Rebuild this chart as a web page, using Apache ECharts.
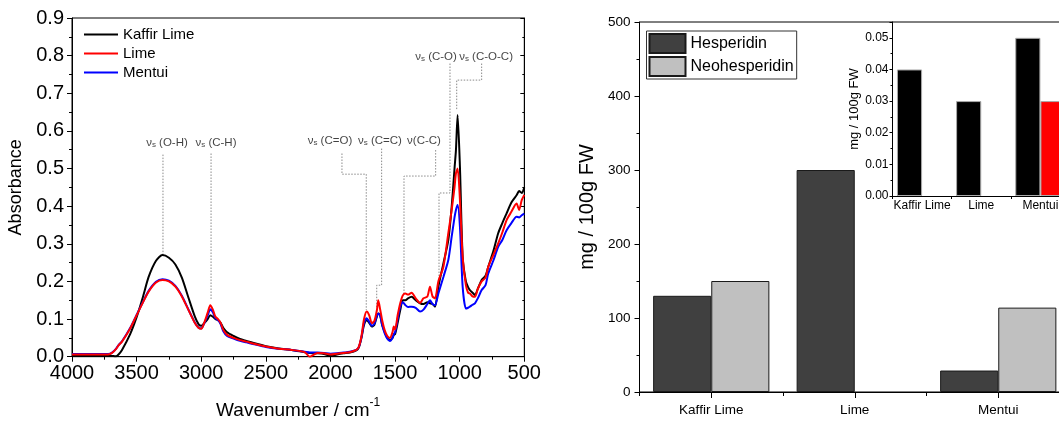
<!DOCTYPE html>
<html><head><meta charset="utf-8">
<script src="https://cdn.jsdelivr.net/npm/echarts@6/dist/echarts.min.js"></script>
<style>html,body{margin:0;padding:0;background:#fff}#c{width:1059px;height:423px}</style>
</head><body><div id="c"></div>
<script>
// ---------- FTIR spectra (wavenumber / absorbance) ----------
const wn = [
  4000,3900,3800,3720,3690,3660,3640,3613,3550,3500,3450,3407,3350,3300,3250,3200,3150,3100,3050,3020,3000,
  2975,2950,2930,2910,2890,2870,2850,2830,2800,2750,2700,2650,2600,2500,2400,2300,
  2200,2160,2100,2050,2000,1950,1900,1850,1800,1780,1760,1740,
  1720,1700,1680,1660,1640,1630,1615,1600,1580,1560,1540,1520,1510,1500,
  1480,1460,1440,1420,1400,1372,1340,1307,1280,1250,1230,1210,1191,1165,
  1126,1088,1062,1040,1029,1016,998,977,952,935,921,900,882,
  860,830,800,779,740,702,670,637,600,560,540,520,500];
const kaffirLime = [
  0.004,0.004,0.004,0.003,0.002,0.001,0.006,0.018,0.06,0.105,0.16,0.212,0.255,0.27,0.263,0.245,0.21,0.158,0.107,0.086,0.082,
  0.09,0.1,0.11,0.106,0.1,0.097,0.09,0.077,0.065,0.055,0.047,0.042,0.037,0.028,0.022,0.018,
  0.012,0.01,0.009,0.007,0.002,0.006,0.009,0.011,0.017,0.025,0.05,0.085,
  0.097,0.09,0.08,0.085,0.108,0.115,0.11,0.084,0.065,0.05,0.044,0.05,0.058,0.06,
  0.09,0.124,0.15,0.15,0.155,0.159,0.15,0.142,0.14,0.145,0.142,0.14,0.133,0.186,
  0.248,0.31,0.398,0.5,0.549,0.642,0.504,0.265,0.2,0.185,0.177,0.17,0.164,
  0.18,0.204,0.215,0.239,0.28,0.328,0.355,0.381,0.41,0.429,0.44,0.435,0.45];
const lime = [
  0.006,0.006,0.006,0.006,0.01,0.02,0.03,0.04,0.075,0.11,0.145,0.173,0.197,0.204,0.2,0.186,0.16,0.125,0.09,0.076,0.074,
  0.092,0.117,0.137,0.125,0.106,0.1,0.09,0.072,0.058,0.05,0.044,0.04,0.035,0.027,0.021,0.018,
  0.012,0.0,0.01,0.009,0.006,0.008,0.01,0.012,0.018,0.027,0.055,0.1,
  0.12,0.11,0.089,0.095,0.125,0.15,0.125,0.097,0.07,0.055,0.05,0.065,0.08,0.072,
  0.11,0.142,0.163,0.168,0.165,0.17,0.155,0.143,0.155,0.16,0.186,0.16,0.155,0.2,
  0.239,0.328,0.39,0.45,0.487,0.5,0.416,0.265,0.19,0.17,0.168,0.16,0.159,
  0.18,0.2,0.21,0.239,0.27,0.301,0.33,0.363,0.385,0.407,0.39,0.416,0.43];
const mentui = [
  0.007,0.007,0.007,0.007,0.011,0.021,0.031,0.041,0.076,0.111,0.146,0.175,0.199,0.206,0.202,0.188,0.162,0.126,0.091,0.077,0.075,
  0.09,0.11,0.126,0.118,0.102,0.097,0.087,0.068,0.055,0.048,0.042,0.038,0.034,0.026,0.021,0.018,
  0.013,0.011,0.011,0.01,0.008,0.009,0.011,0.013,0.018,0.026,0.052,0.09,
  0.102,0.093,0.082,0.088,0.11,0.115,0.108,0.085,0.062,0.048,0.042,0.05,0.06,0.065,
  0.1,0.133,0.145,0.137,0.132,0.133,0.13,0.12,0.125,0.14,0.15,0.14,0.137,0.168,
  0.212,0.257,0.319,0.37,0.39,0.403,0.345,0.186,0.128,0.13,0.133,0.138,0.142,
  0.155,0.177,0.19,0.221,0.255,0.292,0.31,0.336,0.355,0.372,0.37,0.376,0.38];
const spectraNames = ['Kaffir Lime', 'Lime', 'Mentui'];

// ---------- band assignments (data coordinates) ----------
const annNames = ['O-H', 'C-H', 'C=O', 'C=C', 'C-C', 'C-O', 'C-O-C'];
const annSub = [true, true, true, true, false, true, true];
const annText = [[3265,0.58],[2886,0.58],[2004,0.585],[1617,0.585],[1276,0.585],[1183,0.808],[796,0.808]];
const annPaths = [
  [[3296,0.537],[3296,0.27]],
  [[2924,0.54],[2924,0.15]],
  [[1911,0.54],[1911,0.485],[1723,0.485],[1723,0.124]],
  [[1604,0.553],[1604,0.19],[1642,0.19],[1642,0.13]],
  [[1186,0.549],[1186,0.48],[1431,0.48],[1431,0.165]],
  [[1075,0.779],[1075,0.435],[1160,0.435],[1160,0.205]],
  [[830,0.779],[830,0.735],[1023,0.735],[1023,0.655]]];

// ---------- flavanone contents ----------
const barCats = ['Kaffir Lime', 'Lime', 'Mentui'];
const hesperidin = [130, 300, 29];
const neohesperidin = [150, 0, 114];
const insetBlack = [0.04, 0.03, 0.05];
const insetRed = [0, 0, 0.03];

const FONT = '"Liberation Sans", Arial, Helvetica, sans-serif';
const chart = echarts.init(document.getElementById('c'), null, {renderer: 'canvas'});
const pairs = (ys) => wn.map((w, i) => [w, ys[i]]);
const barItems = (vals) => vals.map(v => v === 0 ? {value: v, itemStyle: {borderWidth: 0}} : v);
const blk = '#000';

const lineSeries = [
  {name: 'Kaffir Lime', data: pairs(kaffirLime), color: '#000000', z: 3},
  {name: 'Mentui', data: pairs(mentui), color: '#0000ff', z: 4},
  {name: 'Lime', data: pairs(lime), color: '#ff0000', z: 5}
].map(s => ({
  type: 'line', name: s.name, xAxisIndex: 0, yAxisIndex: 0, data: s.data,
  showSymbol: false, symbol: 'none', smooth: 0.25, z: s.z, color: s.color,
  lineStyle: {color: s.color, width: 2}, itemStyle: {color: s.color}, animation: false
}));

const leaderSeries = annPaths.map(p => ({
  type: 'line', xAxisIndex: 0, yAxisIndex: 0, data: p, symbol: 'none', silent: true, z: 1,
  lineStyle: {color: '#8a8a8a', width: 1, type: [1.5, 1.5]}, animation: false
}));

const labelSeries = {
  type: 'scatter', xAxisIndex: 0, yAxisIndex: 0, data: annText, symbolSize: 1, silent: true, z: 6,
  itemStyle: {color: 'rgba(0,0,0,0)'},
  label: {
    show: true, position: 'inside',
    formatter: (p) => annSub[p.dataIndex]
      ? '{n|ν}{s|s}{n| (' + annNames[p.dataIndex] + ')}'
      : '{n|ν(' + annNames[p.dataIndex] + ')}',
    rich: {
      n: {fontSize: 11.5, fontFamily: FONT, color: '#111', lineHeight: 20, verticalAlign: 'bottom'},
      s: {fontSize: 8, fontFamily: FONT, color: '#111', lineHeight: 8, verticalAlign: 'bottom'}
    }
  }, animation: false
};

const axisCommon = (extra) => Object.assign({
  axisLine: {show: true, lineStyle: {color: blk, width: 1}},
  splitLine: {show: false}
}, extra);

const option = {
  animation: false,
  backgroundColor: '#fff',
  textStyle: {fontFamily: FONT},
  grid: [
    {left: 72, top: 18, right: 534.7, bottom: 66.3, outerBoundsMode: 'none', containLabel: false,
      show: true, borderColor: blk, borderWidth: 1},
    {left: 639.5, top: 22, right: -11, bottom: 31, outerBoundsMode: 'none', containLabel: false,
      show: true, borderColor: blk, borderWidth: 1},
    {left: 892.5, top: 22, right: -11, bottom: 227, outerBoundsMode: 'none', containLabel: false, show: false}
  ],
  legend: [
    {data: spectraNames, orient: 'vertical', left: 84, top: 26, padding: 0, itemGap: 2,
      icon: 'rect', itemWidth: 34, itemHeight: 2,
      textStyle: {fontSize: 15, color: blk, fontFamily: FONT, lineHeight: 17}},
    {data: ['Hesperidin', 'Neohesperidin'], orient: 'vertical', left: 646.5, top: 31,
      padding: [2, 3, 2, 2], itemGap: 2, itemWidth: 36, itemHeight: 19, icon: 'rect',
      borderColor: '#333', borderWidth: 1, backgroundColor: '#fff',
      textStyle: {fontSize: 16, color: blk, fontFamily: FONT}}
  ],
  xAxis: [
    axisCommon({type: 'value', gridIndex: 0, inverse: true, min: 500, max: 4000, interval: 500,
      position: 'bottom',
      axisTick: {show: true, inside: false, length: 5, lineStyle: {color: blk}},
      minorTick: {show: true, splitNumber: 2, length: 3, lineStyle: {color: blk}},
      axisLabel: {fontSize: 20, color: blk, margin: 7, fontFamily: FONT, formatter: (v) => String(v)},
      name: '{t|Wavenumber / cm}{sup|-1}', nameLocation: 'middle', nameGap: 40,
      nameTextStyle: {rich: {
        t: {fontSize: 19, color: blk, fontFamily: FONT, lineHeight: 24, verticalAlign: 'bottom'},
        sup: {fontSize: 12, color: blk, fontFamily: FONT, lineHeight: 12, verticalAlign: 'top'}
      }}}),
    axisCommon({type: 'value', gridIndex: 0, inverse: true, min: 500, max: 4000, interval: 500,
      position: 'top',
      axisTick: {show: true, inside: true, length: 4, lineStyle: {color: blk}},
      minorTick: {show: true, splitNumber: 2, length: 2, lineStyle: {color: blk}},
      axisLabel: {show: false}}),
    axisCommon({type: 'category', gridIndex: 1, data: barCats, position: 'bottom',
      axisTick: {show: true, alignWithLabel: true, length: 6, lineStyle: {color: blk}},
      axisLabel: {fontSize: 13.5, color: blk, margin: 11, fontFamily: FONT, interval: 0}}),
    axisCommon({type: 'category', gridIndex: 1, data: barCats, position: 'bottom',
      axisLine: {show: false},
      axisTick: {show: true, alignWithLabel: false, length: 4, lineStyle: {color: blk}},
      axisLabel: {show: false}}),
    axisCommon({type: 'category', gridIndex: 2, data: barCats, position: 'bottom',
      axisTick: {show: true, length: 3, lineStyle: {color: blk}},
      axisLabel: {fontSize: 12, color: blk, margin: 4, fontFamily: FONT, interval: 0}})
  ],
  yAxis: [
    axisCommon({type: 'value', gridIndex: 0, min: 0, max: 0.9, interval: 0.1, position: 'left',
      axisTick: {show: true, inside: false, length: 5, lineStyle: {color: blk}},
      minorTick: {show: true, splitNumber: 2, length: 3, lineStyle: {color: blk}},
      axisLabel: {fontSize: 20, color: blk, margin: 8, fontFamily: FONT,
        formatter: (v) => v.toFixed(1)},
      name: 'Absorbance', nameLocation: 'middle', nameGap: 47,
      nameTextStyle: {fontSize: 18, color: blk, fontFamily: FONT}}),
    axisCommon({type: 'value', gridIndex: 0, min: 0, max: 0.9, interval: 0.1, position: 'right',
      axisTick: {show: true, inside: true, length: 4, lineStyle: {color: blk}},
      minorTick: {show: true, splitNumber: 2, length: 2, lineStyle: {color: blk}},
      axisLabel: {show: false}}),
    axisCommon({type: 'value', gridIndex: 1, min: 0, max: 500, interval: 100, position: 'left',
      axisTick: {show: true, inside: false, length: 5, lineStyle: {color: blk}},
      minorTick: {show: true, splitNumber: 2, length: 3, lineStyle: {color: blk}},
      axisLabel: {fontSize: 13.5, color: blk, margin: 9, fontFamily: FONT},
      name: 'mg / 100g FW', nameLocation: 'middle', nameGap: 42,
      nameTextStyle: {fontSize: 20, color: blk, fontFamily: FONT}}),
    axisCommon({type: 'value', gridIndex: 2, min: 0, max: 0.055, interval: 0.01, position: 'left',
      axisTick: {show: true, inside: false, length: 3, lineStyle: {color: blk}},
      minorTick: {show: true, splitNumber: 2, length: 2, lineStyle: {color: blk}},
      axisLabel: {fontSize: 12, color: blk, margin: 4, fontFamily: FONT, showMaxLabel: false,
        formatter: (v) => v.toFixed(2)},
      name: 'mg / 100g FW', nameLocation: 'middle', nameGap: 30,
      nameTextStyle: {fontSize: 13, color: blk, fontFamily: FONT}})
  ],
  series: [
    ...leaderSeries,
    ...lineSeries,
    labelSeries,
    {type: 'bar', name: 'Hesperidin', xAxisIndex: 2, yAxisIndex: 2, data: barItems(hesperidin),
      barGap: '0%', barCategoryGap: '19%',
      itemStyle: {color: '#404040', borderColor: '#1a1a1a', borderWidth: 1}},
    {type: 'bar', name: 'Neohesperidin', xAxisIndex: 2, yAxisIndex: 2, data: barItems(neohesperidin),
      barGap: '0%', barCategoryGap: '19%',
      itemStyle: {color: '#c0c0c0', borderColor: '#1a1a1a', borderWidth: 1}},
    {type: 'bar', name: 'inset-black', xAxisIndex: 4, yAxisIndex: 3, data: barItems(insetBlack),
      barGap: '0%', barCategoryGap: '15%',
      itemStyle: {color: '#000000', borderColor: '#aaaaaa', borderWidth: 1}},
    {type: 'bar', name: 'inset-red', xAxisIndex: 4, yAxisIndex: 3, data: barItems(insetRed),
      barGap: '0%', barCategoryGap: '15%',
      itemStyle: {color: '#ff0000', borderColor: '#aaaaaa', borderWidth: 1}}
  ]
};
chart.setOption(option);
</script></body></html>
